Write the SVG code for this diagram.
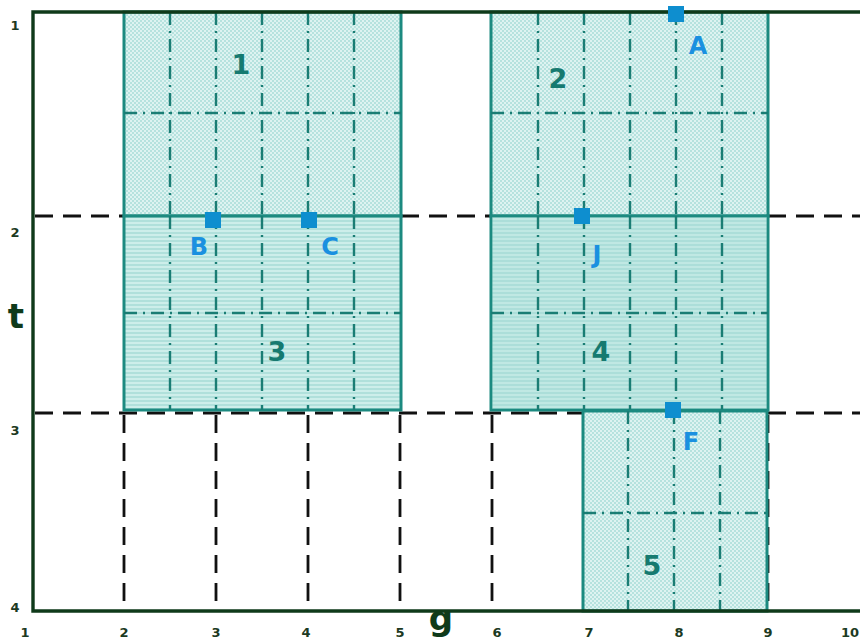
<svg xmlns="http://www.w3.org/2000/svg" width="860" height="640" viewBox="0 0 860 640">
<style>
.grid{fill:none;stroke:#1a7d74;stroke-width:2.4;stroke-dasharray:13 6 2 6}
.dash{fill:none;stroke:#111;stroke-width:2.8;stroke-dasharray:18 10}
.rb{stroke:#1c8a80;stroke-width:3}
.axis{fill:none;stroke:#0f3a1a;stroke-width:3.4}
.num{font-family:"DejaVu Sans",Verdana,sans-serif;font-weight:bold;font-size:27px;fill:#167a70;text-anchor:middle}
.let{font-family:"DejaVu Sans",Verdana,sans-serif;font-weight:bold;font-size:24px;fill:#1a90e0;text-anchor:middle}
.tick{font-family:"DejaVu Sans",Verdana,sans-serif;font-weight:bold;font-size:13px;fill:#1c3a22;text-anchor:middle}
.ax{font-family:"DejaVu Sans",Verdana,sans-serif;font-weight:bold;font-size:34px;fill:#0f3a1a;text-anchor:middle}
.pt{fill:#0e8ecf}
</style>
<defs>
<pattern id="p1" width="4" height="4" patternUnits="userSpaceOnUse">
<rect width="4" height="4" fill="#def3f1"/>
<rect width="2" height="2" fill="#b6e2de"/>
<rect x="2" y="2" width="2" height="2" fill="#b6e2de"/>
</pattern>
<pattern id="p2" width="4" height="4" patternUnits="userSpaceOnUse">
<rect width="4" height="4" fill="#cdeeea"/>
<rect width="4" height="2" fill="#b0e0db"/>
</pattern>
</defs>
<rect width="860" height="640" fill="#fff"/>

<g id="connectors">
<path class="dash" d="M35 216H124M401 216H491M768 216H860"/>
<path class="dash" d="M35 413H583M768 413H860"/>
<path class="dash" d="M124 415V611M216 415V611M308 415V611M400 415V611M492 415V611M768 415V611"/>
</g>

<g id="region1">
<rect class="rb" x="124" y="12" width="277" height="204" fill="url(#p1)"/>
<path class="grid" d="M170 12V216M216 12V216M262 12V216M308 12V216M354 12V216M124 113H401"/>
<text class="num" x="241" y="74">1</text>
</g>
<g id="region2">
<rect class="rb" x="491" y="12" width="277" height="204" fill="url(#p1)"/>
<path class="grid" d="M538 12V216M584 12V216M630 12V216M676 12V216M722 12V216M491 113H768"/>
<text class="num" x="558" y="88">2</text>
</g>
<g id="region3">
<rect class="rb" x="124" y="216" width="277" height="194" fill="url(#p2)"/>
<path class="grid" d="M170 216V410M216 216V410M262 216V410M308 216V410M354 216V410M124 313H401"/>
<text class="num" x="277" y="361">3</text>
</g>
<g id="region4">
<rect class="rb" x="491" y="216" width="277" height="194" fill="url(#p2)"/>
<rect x="492" y="217" width="275" height="192" fill="#a2d9d3" opacity="0.3"/>
<path class="grid" d="M538 216V410M584 216V410M630 216V410M676 216V410M722 216V410M491 313H768"/>
<text class="num" x="601" y="361">4</text>
</g>
<g id="region5">
<rect class="rb" x="583" y="411" width="184" height="200" fill="url(#p1)"/>
<path class="grid" d="M628 411V611M674 411V611M720 411V611M583 513H767"/>
<text class="num" x="652" y="575">5</text>
</g>

<g id="axes">
<path class="axis" d="M860 12H33V611H860"/>
</g>

<g id="points">
<rect class="pt" x="668" y="6" width="16" height="16"/>
<rect class="pt" x="205" y="212" width="16" height="16"/>
<rect class="pt" x="301" y="212" width="16" height="16"/>
<rect class="pt" x="574" y="208" width="16" height="16"/>
<rect class="pt" x="665" y="402" width="16" height="16"/>
<text class="let" x="698" y="54">A</text>
<text class="let" x="199" y="255">B</text>
<text class="let" x="330" y="255">C</text>
<text class="let" x="597" y="263">J</text>
<text class="let" x="691" y="450">F</text>
</g>

<g id="labels">
<text class="tick" x="15" y="30">1</text>
<text class="tick" x="15" y="237">2</text>
<text class="tick" x="15" y="435">3</text>
<text class="tick" x="15" y="612">4</text>
<text class="tick" x="25" y="637">1</text>
<text class="tick" x="124" y="637">2</text>
<text class="tick" x="216" y="637">3</text>
<text class="tick" x="306" y="637">4</text>
<text class="tick" x="400" y="637">5</text>
<text class="tick" x="497" y="637">6</text>
<text class="tick" x="589" y="637">7</text>
<text class="tick" x="679" y="637">8</text>
<text class="tick" x="768" y="637">9</text>
<text class="tick" x="850" y="637">10</text>
<text class="ax" x="16" y="328">t</text>
<text class="ax" x="441" y="630">g</text>
</g>
</svg>
